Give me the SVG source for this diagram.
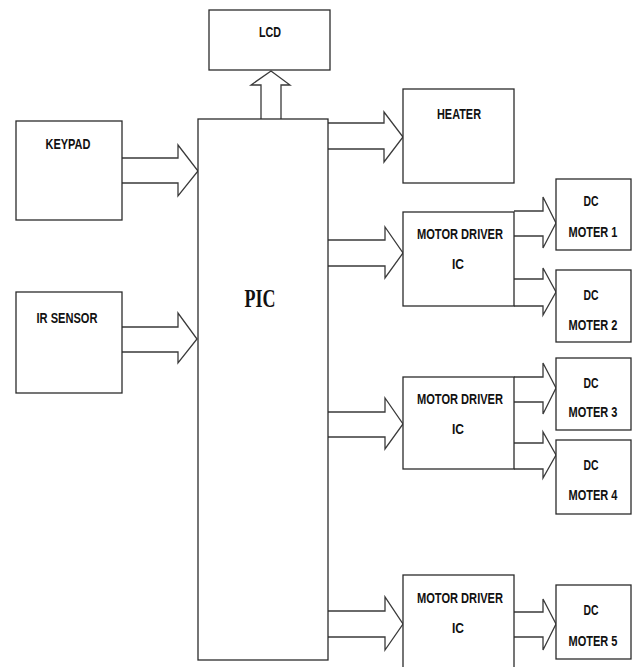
<svg xmlns="http://www.w3.org/2000/svg" width="638" height="667" viewBox="0 0 638 667">
<style>
.box{fill:#fff;stroke:#2b2b2b;stroke-width:1.3}
.arr{fill:#fff;stroke:#3a3a3a;stroke-width:1.3;stroke-linejoin:miter}
.t{font-family:"Liberation Sans",Arial,sans-serif;font-size:15px;font-weight:bold;fill:#111;text-anchor:middle}
.pic{font-family:"Liberation Serif",serif;font-size:25px;font-weight:bold;fill:#111;text-anchor:middle}
</style>
<rect width="638" height="667" fill="#fff"/>
<g id="connectors">
<path class="arr" d="M261,119 L261,85 L251,85 L271,71 L290,85 L281,85 L281,119"/>
<path class="arr" d="M122,158 L178,158 L178,145 L198,171 L178,196 L178,183 L122,183"/>
<path class="arr" d="M122,327 L178,327 L178,313 L197,339 L178,363 L178,352 L122,352"/>
<path class="arr" d="M328,123 L384,123 L384,112 L403,137 L384,162 L384,149 L328,149"/>
<path class="arr" d="M328,240 L385,240 L385,227 L403,253 L385,278 L385,266 L328,266"/>
<path class="arr" d="M328,412 L385,412 L385,398 L403,424 L385,449 L385,437 L328,437"/>
<path class="arr" d="M328,611 L385,611 L385,597 L403,624 L385,650 L385,637 L328,637"/>
<path class="arr" d="M514,211 L543,211 L543,197 L556,223 L543,248 L543,236 L514,236"/>
<path class="arr" d="M514,279 L543,279 L543,268 L556,292 L543,315 L543,306 L514,306"/>
<path class="arr" d="M514,377 L543,377 L543,363 L556,388 L543,414 L543,402 L514,402"/>
<path class="arr" d="M514,443 L543,443 L543,432 L556,455 L543,478 L543,469 L514,469"/>
<path class="arr" d="M514,612 L543,612 L543,599 L556,624 L543,650 L543,637 L514,637"/>
</g>
<g id="lcd"><rect class="box" x="209" y="10" width="121" height="60"/><text class="t" x="270" y="37" textLength="22" lengthAdjust="spacingAndGlyphs">LCD</text></g>
<g id="pic"><rect class="box" x="198" y="119" width="130" height="541"/><text class="pic" x="260" y="307" textLength="31" lengthAdjust="spacingAndGlyphs">PIC</text></g>
<g id="keypad"><rect class="box" x="16" y="121" width="106" height="99"/><text class="t" x="68" y="149" textLength="45" lengthAdjust="spacingAndGlyphs">KEYPAD</text></g>
<g id="irsensor"><rect class="box" x="16" y="292" width="106" height="101"/><text class="t" x="67" y="323" textLength="61" lengthAdjust="spacingAndGlyphs">IR SENSOR</text></g>
<g id="heater"><rect class="box" x="403" y="89" width="111" height="94"/><text class="t" x="459" y="119" textLength="44" lengthAdjust="spacingAndGlyphs">HEATER</text></g>
<g id="md1"><rect class="box" x="403" y="212" width="111" height="94"/><text class="t" x="460" y="239" textLength="86" lengthAdjust="spacingAndGlyphs">MOTOR DRIVER</text><text class="t" x="458" y="269" textLength="12" lengthAdjust="spacingAndGlyphs">IC</text></g>
<g id="md2"><rect class="box" x="403" y="377" width="111" height="92"/><text class="t" x="460" y="404" textLength="86" lengthAdjust="spacingAndGlyphs">MOTOR DRIVER</text><text class="t" x="458" y="434" textLength="12" lengthAdjust="spacingAndGlyphs">IC</text></g>
<g id="md3"><rect class="box" x="403" y="575" width="111" height="110"/><text class="t" x="460" y="603" textLength="86" lengthAdjust="spacingAndGlyphs">MOTOR DRIVER</text><text class="t" x="458" y="633" textLength="12" lengthAdjust="spacingAndGlyphs">IC</text></g>
<g id="dc1"><rect class="box" x="556" y="179" width="75" height="71"/><text class="t" x="591" y="206" textLength="15" lengthAdjust="spacingAndGlyphs">DC</text><text class="t" x="593" y="237" textLength="49" lengthAdjust="spacingAndGlyphs">MOTER 1</text></g>
<g id="dc2"><rect class="box" x="556" y="270" width="75" height="72"/><text class="t" x="591" y="300" textLength="15" lengthAdjust="spacingAndGlyphs">DC</text><text class="t" x="593" y="330" textLength="49" lengthAdjust="spacingAndGlyphs">MOTER 2</text></g>
<g id="dc3"><rect class="box" x="556" y="358" width="75" height="72"/><text class="t" x="591" y="388" textLength="15" lengthAdjust="spacingAndGlyphs">DC</text><text class="t" x="593" y="417" textLength="49" lengthAdjust="spacingAndGlyphs">MOTER 3</text></g>
<g id="dc4"><rect class="box" x="556" y="440" width="75" height="74"/><text class="t" x="591" y="470" textLength="15" lengthAdjust="spacingAndGlyphs">DC</text><text class="t" x="593" y="500" textLength="49" lengthAdjust="spacingAndGlyphs">MOTER 4</text></g>
<g id="dc5"><rect class="box" x="556" y="585" width="75" height="74"/><text class="t" x="591" y="615" textLength="15" lengthAdjust="spacingAndGlyphs">DC</text><text class="t" x="593" y="646" textLength="49" lengthAdjust="spacingAndGlyphs">MOTER 5</text></g>
</svg>
